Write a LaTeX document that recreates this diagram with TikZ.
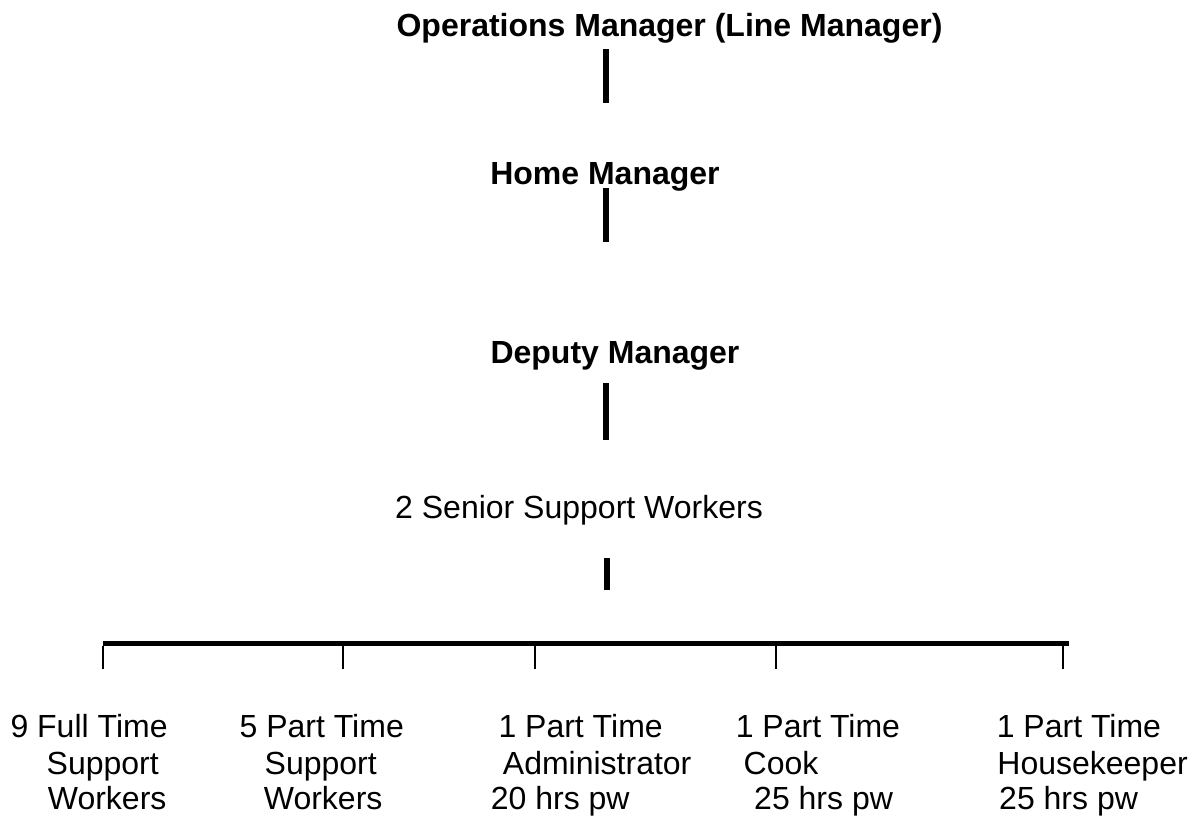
\documentclass[tikz,border=0pt]{standalone}
\usepackage{fontspec}
\setmainfont{Liberation Sans}
\begin{document}
\begin{tikzpicture}[x=1pt,y=-1pt,
  title/.style={inner sep=0pt,anchor=base,font=\fontsize{32}{37}\selectfont\bfseries},
  plain/.style={inner sep=0pt,anchor=base,font=\fontsize{32}{37}\selectfont},
  staff/.style={inner sep=0pt,anchor=base west,font=\fontsize{32}{37}\selectfont},
  link/.style={line width=5.5pt},
  bar/.style={line width=5.3pt},
  tick/.style={line width=2pt}]
\useasboundingbox (0,0) rectangle (1193,817);

% management levels
\node[title] (ops) at (669.5,36) {Operations Manager (Line Manager)};
\node[title] (home) at (605,184.3) {Home Manager};
\node[title] (deputy) at (615,363.3) {Deputy Manager};
\node[plain] (senior) at (579,518.3) {2 Senior Support Workers};

% reporting lines between the levels
\coordinate (l1a) at (606,49.3);  \coordinate (l1b) at (606,102.7);
\coordinate (l2a) at (606,188.3); \coordinate (l2b) at (606,241.7);
\coordinate (l3a) at (606,383.3); \coordinate (l3b) at (606,440);
\coordinate (l4a) at (607,558.3); \coordinate (l4b) at (607,590);
\draw[link] (l1a) -- (l1b);
\draw[link] (l2a) -- (l2b);
\draw[link] (l3a) -- (l3b);
\draw[link] (l4a) -- (l4b);

% horizontal bar with drops to each team
\coordinate (barL) at (102.7,643.3);
\coordinate (barR) at (1069,643.3);
\draw[bar] (barL) -- (barR);
\foreach \x/\n in {103/t1,343.3/t2,535/t3,775.7/t4,1063/t5}{
  \coordinate (\n a) at (\x,646);
  \coordinate (\n b) at (\x,669.3);
  \draw[tick] (\n a) -- (\n b);
}

% teams
\node[staff] (c1a) at (10.3,737)  {9 Full Time};
\node[staff] (c1b) at (46.5,774)  {Support};
\node[staff] (c1c) at (47.7,809.5) {Workers};

\node[staff] (c2a) at (239.4,737) {5 Part Time};
\node[staff] (c2b) at (264.5,774) {Support};
\node[staff] (c2c) at (263.7,809.5) {Workers};

\node[staff] (c3a) at (498.3,737) {1 Part Time};
\node[staff] (c3b) at (502.7,774) {Administrator};
\node[staff] (c3c) at (490.7,809.5) {20 hrs pw};

\node[staff] (c4a) at (735.6,737) {1 Part Time};
\node[staff] (c4b) at (743.5,774) {Cook};
\node[staff] (c4c) at (754,809.5) {25 hrs pw};

\node[staff] (c5a) at (996.6,737) {1 Part Time};
\node[staff] (c5b) at (997.2,774) {Housekeeper};
\node[staff] (c5c) at (999,809.5) {25 hrs pw};
\end{tikzpicture}
\end{document}
